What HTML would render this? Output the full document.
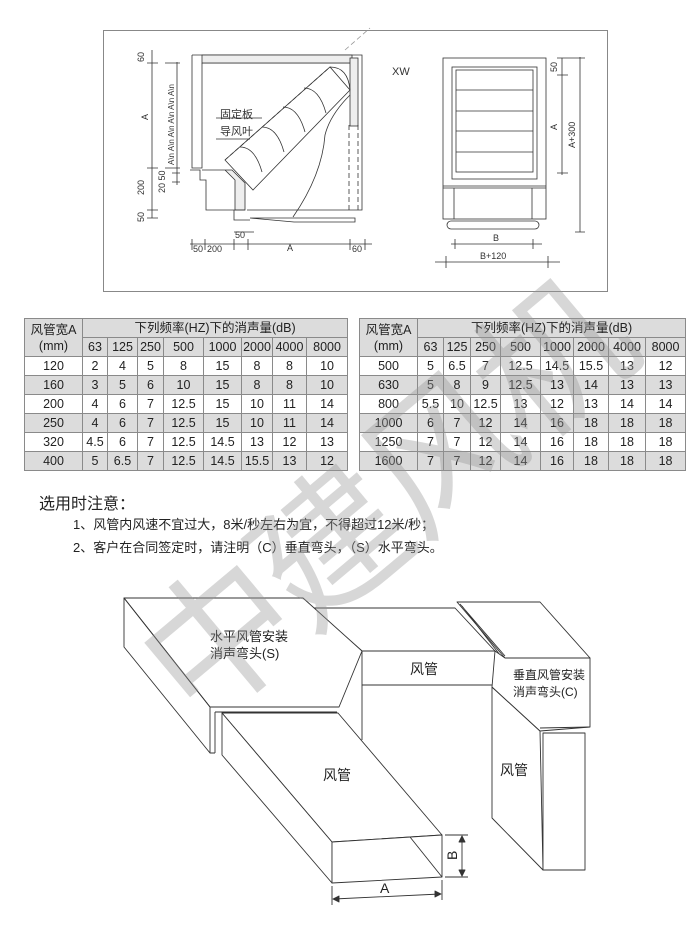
<!DOCTYPE html>
<html><head><meta charset="utf-8"><style>
body{margin:0;width:700px;height:938px;background:#fff;position:relative;overflow:hidden;font-family:"Liberation Sans","Noto Sans CJK SC",sans-serif;color:#222}
table{position:absolute;border-collapse:collapse;table-layout:fixed;font-size:12.5px}
td{border:1px solid #8a8a8a;text-align:center;padding:0;height:18px;line-height:17px}
tr.g td,td.g{background:#dcdcdc}
.wm{position:absolute;left:90px;top:390px;font-size:150px;color:rgba(150,150,150,0.38);transform:rotate(-40deg);transform-origin:center;white-space:nowrap;letter-spacing:-5px;font-family:"Noto Sans CJK SC",sans-serif;z-index:5;pointer-events:none;width:560px}
.n{position:absolute;white-space:nowrap}
</style></head><body>

<svg width="700" height="938" style="position:absolute;left:0;top:0" font-family="Liberation Sans, Noto Sans CJK SC, sans-serif">
<rect x="103.5" y="30.5" width="504" height="261" fill="none" stroke="#888" stroke-width="1"/>
<g stroke="#333" fill="none" stroke-width="0.8">
<path d="M192 55 H362 V210 H247 M202 63 H352 V125 M192 55 V168 H202 V63"/>
<rect x="202" y="55" width="150" height="8" fill="#eee"/>
<rect x="350" y="58" width="8" height="68" fill="#eee"/>
<path d="M202 170 H232 L245 183 V210 H235 V180 L225 170 Z" fill="#eee"/>
<path d="M190 170 H200 V180 H206 V210 H245 M234 210 V220 H250"/>
<path d="M250 218 H355 V222 H294 Z"/>
<path d="M225 160 L253 190 L350 90 L330 67 Z" fill="#fff"/>
<path d="M225 160 L330 67" stroke-dasharray="4 3"/>
<path d="M240 147 q15 0 22 25 M262 127 q15 0 22 25 M283 107 q15 0 22 25 M304 88 q15 0 22 25 M330 67 q18 0 20 23"/>
<path d="M350 95 q-20 20 -25 40 q-3 40 -32 82" />
<path d="M349 125 V210 M358 125 V210" stroke-dasharray="5 3"/>
<path d="M345 50 L370 28" stroke-dasharray="5 3" stroke="#999"/>
<path d="M216 118 H262 M216 139 H250"/>
<path d="M152 50 V218 M177 62 V185 M147 63 H158 M147 168 H158 M147 210 H158 M147 218 H158 M172 173 H180 M172 182 H180 M165 63 H180 M165 168 H180"/>
<path d="M190 244 H372 M192 239 V250 M205 239 V250 M234 239 V250 M248 239 V250 M350 239 V250 M365 239 V250 M234 232 H254"/>
<rect x="443" y="58" width="103" height="161"/>
<rect x="452" y="67" width="85" height="112"/>
<rect x="456" y="70" width="77" height="102"/>
<path d="M456 90 H533 M456 111 H533 M456 131 H533 M456 152 H533 M443 186 H546 M443 188 H546 M454 188 V219 M532 188 V219"/>
<rect x="447" y="221" width="92" height="8" rx="4"/>
<path d="M451 244 H542 M455 239 V249 M533 239 V249 M435 262 H560 M446 256 V268 M548 256 V268"/>
<path d="M562 58 V175 M580 57 V232 M557 58 H585 M557 75 H568 M557 173 H568 M575 232 H585"/>
</g>
<g font-size="9" fill="#333">
<text x="392" y="75" font-size="11">XW</text>
<text x="220" y="118" font-size="11">固定板</text>
<text x="220" y="135" font-size="11">导风叶</text>
<text x="144" y="62" transform="rotate(-90 144 62)">60</text>
<text x="148" y="120" transform="rotate(-90 148 120)">A</text>
<text x="174" y="165" transform="rotate(-90 174 165)" font-size="8">A\n A\n A\n A\n A\n A\n</text>
<text x="144" y="195" transform="rotate(-90 144 195)">200</text>
<text x="165" y="193" transform="rotate(-90 165 193)">20 50</text>
<text x="144" y="222" transform="rotate(-90 144 222)">50</text>
<text x="193" y="252">50</text><text x="207" y="252">200</text><text x="235" y="238">50</text><text x="287" y="251">A</text><text x="352" y="252">60</text>
<text x="493" y="241">B</text><text x="480" y="259">B+120</text>
<text x="557" y="72" transform="rotate(-90 557 72)">50</text>
<text x="557" y="130" transform="rotate(-90 557 130)">A</text>
<text x="575" y="148" transform="rotate(-90 575 148)">A+300</text>
</g>

<g stroke="#333" fill="#fff" stroke-width="0.9" stroke-linejoin="round">
<path d="M313 608 L455 608 L495 651 L362 651 Z"/>
<path d="M457 602 L540 602 L590 658 L505 658 Z"/>
<path d="M460 604 L505 656 M462 606 L500 655"/>
<rect x="362" y="651" width="133" height="34"/>
<path d="M362 685 V740"/>
<path d="M492 687 L540 731 L543 870 L492 818 Z"/>
<path d="M505 658 H590 V727 L540 731 L492 687 L495 651 Z"/>
<path d="M543 733 H585 V870 H543 Z"/>
<path d="M540 728 L590 727"/>
<path d="M124 598 L303 598 L362 651 L339 707 L210 707 Z"/>
<path d="M124 598 V647 L210 753 V707 Z"/>
<path d="M124 598 L210 707"/>
<path d="M210 707 H339 M215 712 H337 M215 712 V753 M210 753 H215"/>
<path d="M222 713 L338 713 L442 835 L332 842 Z"/>
<path d="M222 713 V755 L332 883 V842 Z"/>
<path d="M332 842 L442 835 V877 L332 883 Z"/>
<path d="M410 837 L442 877"/>
<path d="M445 835 H468 M445 877 H468 M462 838 V874 M332 886 V905 M442 880 V900 M334 899 L440 894" fill="none"/>
<path d="M462 836 l-3 6 h6 Z M462 876 l-3 -6 h6 Z M333 899 l6 -3 v6 Z M441 894 l-6 -3 v6 Z" fill="#333"/>
</g>
<g font-size="13" fill="#222">
<text x="210" y="641">水平风管安装</text>
<text x="210" y="658">消声弯头(S)</text>
<text x="410" y="674" font-size="14">风管</text>
<text x="513" y="679" font-size="12">垂直风管安装</text>
<text x="513" y="696" font-size="12">消声弯头(C)</text>
<text x="323" y="780" font-size="14">风管</text>
<text x="500" y="775" font-size="14">风管</text>
<text x="380" y="893" font-size="14">A</text>
<text x="457" y="860" font-size="14" transform="rotate(-90 457 860)">B</text>
</g>
</svg>

<table style="left:24px;top:318px;width:323px">
<colgroup><col style="width:58px"><col style="width:25px"><col style="width:30px"><col style="width:26px"><col style="width:40px"><col style="width:38px"><col style="width:31px"><col style="width:34px"><col style="width:41px"></colgroup>
<tr><td class="g" rowspan="2" style="line-height:16px">风管宽A<br>(mm)</td><td class="g" colspan="8">下列频率(HZ)下的消声量(dB)</td></tr>
<tr class="g"><td>63</td><td>125</td><td>250</td><td>500</td><td>1000</td><td>2000</td><td>4000</td><td>8000</td></tr>
<tr><td>120</td><td>2</td><td>4</td><td>5</td><td>8</td><td>15</td><td>8</td><td>8</td><td>10</td></tr>
<tr class="g"><td>160</td><td>3</td><td>5</td><td>6</td><td>10</td><td>15</td><td>8</td><td>8</td><td>10</td></tr>
<tr><td>200</td><td>4</td><td>6</td><td>7</td><td>12.5</td><td>15</td><td>10</td><td>11</td><td>14</td></tr>
<tr class="g"><td>250</td><td>4</td><td>6</td><td>7</td><td>12.5</td><td>15</td><td>10</td><td>11</td><td>14</td></tr>
<tr><td>320</td><td>4.5</td><td>6</td><td>7</td><td>12.5</td><td>14.5</td><td>13</td><td>12</td><td>13</td></tr>
<tr class="g"><td>400</td><td>5</td><td>6.5</td><td>7</td><td>12.5</td><td>14.5</td><td>15.5</td><td>13</td><td>12</td></tr>
</table>

<table style="left:359px;top:318px;width:326px">
<colgroup><col style="width:58px"><col style="width:26px"><col style="width:27px"><col style="width:30px"><col style="width:40px"><col style="width:33px"><col style="width:35px"><col style="width:37px"><col style="width:40px"></colgroup>
<tr><td class="g" rowspan="2" style="line-height:16px">风管宽A<br>(mm)</td><td class="g" colspan="8">下列频率(HZ)下的消声量(dB)</td></tr>
<tr class="g"><td>63</td><td>125</td><td>250</td><td>500</td><td>1000</td><td>2000</td><td>4000</td><td>8000</td></tr>
<tr><td>500</td><td>5</td><td>6.5</td><td>7</td><td>12.5</td><td>14.5</td><td>15.5</td><td>13</td><td>12</td></tr>
<tr class="g"><td>630</td><td>5</td><td>8</td><td>9</td><td>12.5</td><td>13</td><td>14</td><td>13</td><td>13</td></tr>
<tr><td>800</td><td>5.5</td><td>10</td><td>12.5</td><td>13</td><td>12</td><td>13</td><td>14</td><td>14</td></tr>
<tr class="g"><td>1000</td><td>6</td><td>7</td><td>12</td><td>14</td><td>16</td><td>18</td><td>18</td><td>18</td></tr>
<tr><td>1250</td><td>7</td><td>7</td><td>12</td><td>14</td><td>16</td><td>18</td><td>18</td><td>18</td></tr>
<tr class="g"><td>1600</td><td>7</td><td>7</td><td>12</td><td>14</td><td>16</td><td>18</td><td>18</td><td>18</td></tr>
</table>

<div class="n" style="left:39px;top:490px;font-size:16px">选用时注意：</div>
<div class="n" style="left:73px;top:514px;font-size:13px">1、风管内风速不宜过大，8米/秒左右为宜，不得超过12米/秒；</div>
<div class="n" style="left:73px;top:537px;font-size:13px">2、客户在合同签定时，请注明（C）垂直弯头，（S）水平弯头。</div>

<div class="wm">中建风机</div>
</body></html>
